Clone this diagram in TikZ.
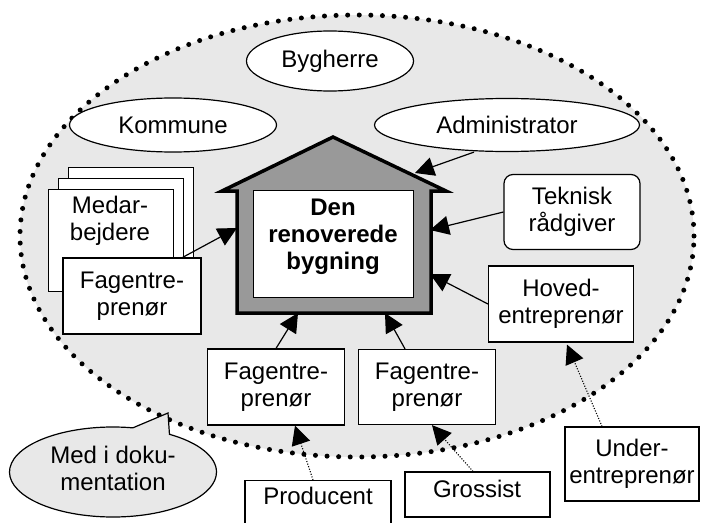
\documentclass[tikz,border=0pt]{standalone}
\usepackage{fontspec}
\setmainfont{Liberation Sans}
\usetikzlibrary{shapes.geometric,shapes.callouts,arrows.meta,calc}
\definecolor{bgray}{HTML}{E8E8E8}
\definecolor{hgray}{HTML}{999999}
\begin{document}
\begin{tikzpicture}[x=1pt,y=-1pt,
  font=\fontsize{24}{27}\selectfont,
  box/.style={draw, fill=white, line width=1.2pt, align=center, inner sep=0pt},
  oval/.style={draw, ellipse, fill=white, line width=1.2pt, inner sep=0pt},
  arr/.style={line width=1.2pt, -{Triangle[length=19pt,width=19pt]}},
  darr/.style={arr, line width=1.1pt, dash pattern=on 1.1pt off 1.6pt},
  txt/.style={align=center, inner sep=0pt}]
\useasboundingbox (0,0) rectangle (704,522);

% outer dotted ellipse
\node[ellipse, draw, fill=bgray, line width=5pt, line cap=round,
      dash pattern=on 0pt off 11.6pt, minimum width=674pt, minimum height=442pt,
      inner sep=0pt] (outer) at (357,236) {};

% ovals
\node[oval, minimum width=167pt, minimum height=60pt] (byg) at (330,61) {Bygherre};
\node[oval, minimum width=207pt, minimum height=54pt] (kom) at (173,125) {Kommune};
\node[oval, minimum width=265pt, minimum height=53pt] (adm) at (507,125) {Administrator};

% boxes
\node[box, rounded corners=9pt, minimum width=136pt, minimum height=75pt] (tek) at (572,212) {Teknisk\\rådgiver};
\node[box, minimum width=145pt, minimum height=76pt] (hov) at (561,304) {Hoved-\\entreprenør};

% Medarbejdere stack
\node[box, anchor=north west, minimum width=125pt, minimum height=100pt] (med3) at (68,167) {};
\node[box, anchor=north west, minimum width=125pt, minimum height=100pt] (med2) at (58,178) {};
\node[box, anchor=north west, minimum width=125pt, minimum height=102pt] (med1) at (48,189) {};
\node[txt] (medt) at (110,221) {Medar-\\bejdere};

\node[box, minimum width=138pt, minimum height=76pt] (fagL) at (132,296) {Fagentre-\\prenør};
\node[box, minimum width=137pt, minimum height=76pt] (fagM) at (276,387) {Fagentre-\\prenør};
\node[box, minimum width=137pt, minimum height=75pt] (fagR) at (427,387) {Fagentre-\\prenør};
\node[box, minimum width=134pt, minimum height=74pt] (under) at (632,464) {Under-\\entreprenør};

\node[box, anchor=north, minimum width=146pt, minimum height=60pt] (prod) at (318,480) {};
\node[txt] (prodt) at (318,496) {Producent};
\node[box, minimum width=145pt, minimum height=45pt] (gros) at (477.5,494.5) {};
\node[txt] (grost) at (477,489) {Grossist};

% house
\draw[fill=hgray, line width=3.5pt, line join=miter]
  (237,313) -- (237,191) -- (222,191) -- (333,137) -- (446,191) -- (431,191) -- (431,313) -- cycle;
\node[draw, fill=white, line width=1pt, minimum width=160pt, minimum height=107pt, inner sep=0pt] (bld) at (333,243.5) {};
\node[txt, font=\fontsize{24}{27}\selectfont\bfseries] (bldt) at (333,237) {Den\\renoverede\\bygning};

\coordinate (hL) at (237,228);
\coordinate (hRoof) at (415,173);
\coordinate (hTek) at (430,230);
\coordinate (hHov) at (430,274);
\coordinate (hM) at (298,313);
\coordinate (hR) at (385,313);

% callout
\node[ellipse callout, draw, fill=bgray, line width=1.2pt, minimum width=207pt,
      minimum height=90pt, callout absolute pointer={(168,413)},
      callout pointer arc=22, inner sep=0pt] (doc) at (113,472) {};
\node[txt] (doct) at (113,468) {Med i doku-\\mentation};

% arrows
\draw[arr] ([xshift=-19pt]fagL.north east) -- (hL);
\draw[arr] ([xshift=-33pt]adm.south) -- (hRoof);
\draw[arr] (tek.west) -- (hTek);
\draw[arr] (hov.west) -- (hHov);
\draw[arr] (fagM.north) -- (hM);
\draw[arr] ([xshift=-22pt]fagR.north) -- (hR);

\draw[darr] ([xshift=-5pt]prod.north) -- ([xshift=19pt]fagM.south);
\draw[darr] ([xshift=-4.5pt]gros.north) -- ([xshift=5pt]fagR.south);
\draw[darr] ([xshift=-30pt]under.north) -- ([xshift=6pt,yshift=-2pt]hov.south);
\end{tikzpicture}
\end{document}
